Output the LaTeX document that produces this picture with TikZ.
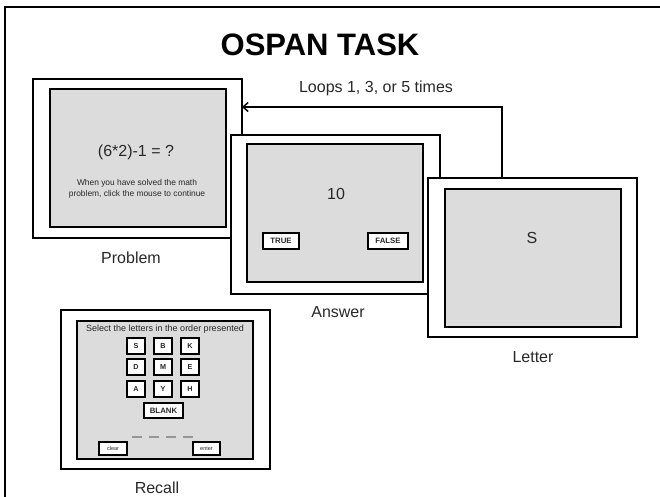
\documentclass[tikz,border=0pt]{standalone}
\usepackage{fontspec}
\setmainfont{Liberation Sans}
\usetikzlibrary{arrows.meta}
\definecolor{screengray}{RGB}{220,220,220}
\definecolor{inkgray}{RGB}{40,40,40}
\definecolor{dashgray}{RGB}{150,150,150}
\tikzset{
  outerframe/.style={draw=black, fill=white, line width=1.7pt, anchor=north west,
    minimum width=209pt, minimum height=159pt, inner sep=0pt, outer sep=0pt},
  screen/.style={draw=black, fill=screengray, line width=1.7pt, anchor=north west,
    minimum width=176pt, minimum height=138pt, inner sep=0pt, outer sep=0pt},
  caption/.style={text=inkgray, font=\fontsize{16}{19}\selectfont, inner sep=0pt},
  bigtext/.style={text=inkgray, font=\fontsize{16}{19}\selectfont, inner sep=0pt},
  smalltext/.style={text=inkgray, font=\fontsize{8.4}{12}\selectfont, inner sep=0pt, align=center},
  btn/.style={draw=black, fill=white, line width=1.2pt, inner sep=0pt, text=inkgray,
    font=\bfseries\fontsize{7.8}{8}\selectfont},
  keybtn/.style={btn, minimum width=18pt, minimum height=16pt, font=\bfseries\fontsize{7.2}{8}\selectfont},
  tinybtn/.style={btn, minimum width=28pt, minimum height=13pt, font=\fontsize{5.5}{6}\selectfont},
  looparrow/.style={draw=black, line width=1.5pt, -{Straight Barb[length=5pt,width=9pt]}},
}
\begin{document}
\begin{tikzpicture}[x=1pt, y=-1pt]
  \useasboundingbox (0,0) rectangle (660,497);
  % page border (top and left edges)
  \draw[line width=2.2pt] (5,497) -- (5,7) -- (660,7);

  % title
  \node[font=\bfseries\fontsize{31}{36}\selectfont, inner sep=0pt] (title) at (320,45) {OSPAN TASK};

  % Problem screen
  \node[outerframe] (pout) at (33,79) {};
  \node[screen] (pin) at (50,89) {};
  \node[bigtext] (ptxt) at (136,152) {(6*2)-1 = ?};
  \node[smalltext] (pnote) at (137,189) {When you have solved the math\\[-1pt]problem, click the mouse to continue};
  \node[caption] (plab) at (131,258) {Problem};

  % Answer screen
  \node[outerframe] (aout) at (231,135) {};
  \node[screen] (ain) at (247,144) {};
  \node[bigtext] (atxt) at (336,194) {10};
  \node[btn, minimum width=36pt, minimum height=16pt] (btrue) at (281,241) {TRUE};
  \node[btn, minimum width=40pt, minimum height=16pt] (bfalse) at (388,241) {FALSE};
  \node[caption] (alab) at (338,312) {Answer};

  % Letter screen
  \node[outerframe] (lout) at (428,178) {};
  \node[screen] (lin) at (445,189) {};
  \node[bigtext] (ltxt) at (532,238) {S};
  \node[caption] (llab) at (533,357) {Letter};

  % Recall screen
  \node[outerframe] (rout) at (61,310) {};
  \node[screen] (rin) at (77,321) {};
  \node[smalltext, font=\fontsize{9}{12}\selectfont] (rtitle) at (165,329) {Select the letters in the order presented};
  \node[keybtn] (kS) at (136,346) {S};
  \node[keybtn] (kB) at (163,346) {B};
  \node[keybtn] (kK) at (190,346) {K};
  \node[keybtn] (kD) at (136,367) {D};
  \node[keybtn] (kM) at (163,367) {M};
  \node[keybtn] (kE) at (190,367) {E};
  \node[keybtn] (kA) at (136,389) {A};
  \node[keybtn] (kY) at (163,389) {Y};
  \node[keybtn] (kH) at (190,389) {H};
  \node[btn, minimum width=39pt, minimum height=15pt] (kblank) at (163.5,410.5) {BLANK};
  \foreach \dx in {132,149,166,183}
    \draw[dashgray, line width=1.6pt] (\dx,437) -- ++(10,0);
  \node[tinybtn] (kclear) at (113,448.5) {clear};
  \node[tinybtn, minimum width=27pt] (kenter) at (206.5,448.5) {enter};
  \node[caption] (rlab) at (157,488) {Recall};

  % loop back from Letter to Problem
  \coordinate (turn) at (502,107);
  \draw[looparrow] (lout.north -| turn) -- (turn) -- (pout.east |- turn);
  \node[caption] (looplab) at (376,88) {Loops 1, 3, or 5 times};
\end{tikzpicture}
\end{document}
